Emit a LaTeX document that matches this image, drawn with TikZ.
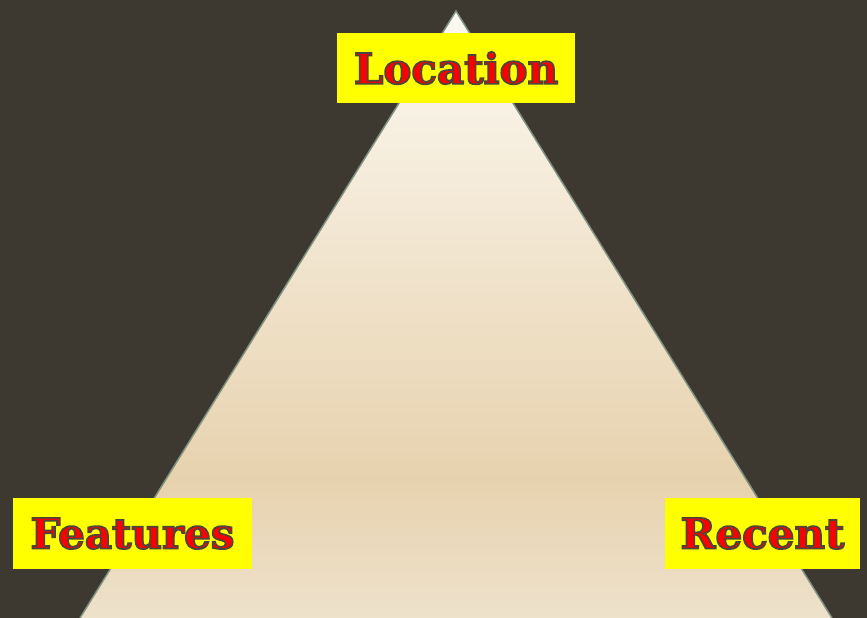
\documentclass[tikz,border=0pt]{standalone}
\usepackage{fontspec}
\setmainfont{DejaVu Serif}
\definecolor{bgc}{HTML}{3D3830}
\definecolor{edgec}{HTML}{7F9282}
\definecolor{topc}{HTML}{FCF9F2}
\definecolor{midc}{HTML}{E7D2AE}
\definecolor{botc}{HTML}{EEE2CC}
\definecolor{lblred}{HTML}{FF0000}
\definecolor{boxy}{HTML}{FFFF00}
\tikzset{
  lbl/.style={fill=boxy, inner sep=0pt, font=\bfseries\fontsize{42}{42}\selectfont, anchor=center}
}
\newcommand{\outlined}[1]{{\color{lblred}\special{pdf:code 2 Tr 1.7 w 0.30 0.27 0.23 RG}#1\special{pdf:code 0 Tr 0.4 w}}}
\begin{document}
\begin{tikzpicture}[x=1pt,y=-1pt]
\useasboundingbox (0,0) rectangle (867,618);
\fill[bgc] (0,0) rectangle (867,618);
\coordinate (apex) at (456,11);
\coordinate (bl) at (80,618);
\coordinate (br) at (832,618);
\begin{scope}
\clip (apex) -- (br) -- (bl) -- cycle;
\shade[top color=topc, bottom color=midc] (60,11) rectangle (850,480);
\shade[top color=midc, bottom color=botc] (60,479.5) rectangle (850,620);
\end{scope}
\draw[edgec, line width=1.5pt, line join=miter] (bl) -- (apex) -- (br);
\node[lbl, minimum width=238pt, minimum height=70pt] (loc) at (456,68) {\outlined{Location}};
\node[lbl, minimum width=239pt, minimum height=71pt] (feat) at (132.5,533.5) {\outlined{Features}};
\node[lbl, minimum width=195pt, minimum height=71pt] (rec) at (762.5,533.5) {\outlined{Recent}};
\end{tikzpicture}
\end{document}
